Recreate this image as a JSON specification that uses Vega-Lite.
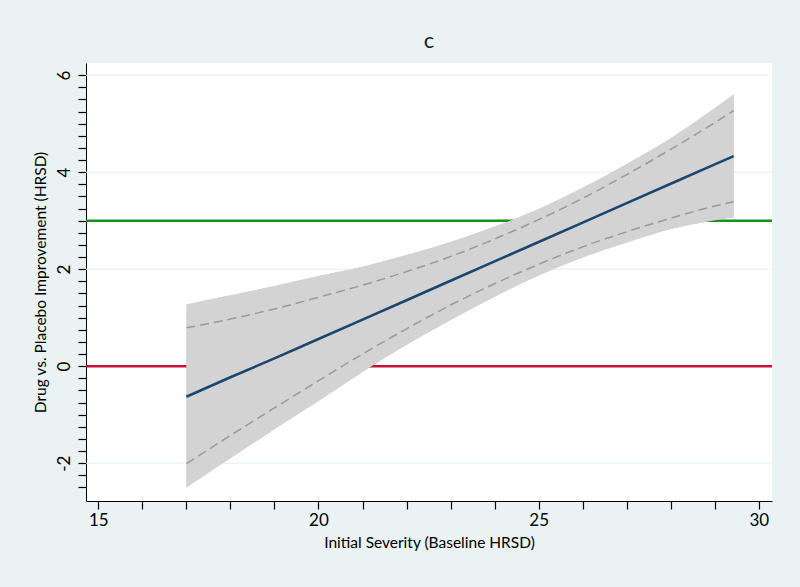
{
  "$schema": "https://vega.github.io/schema/vega-lite/v6.json",
  "width": 686,
  "height": 438,
  "autosize": {"type": "none"},
  "padding": {"left": 86, "top": 63, "right": 28, "bottom": 86},
  "background": "#eaf2f3",
  "title": {"text": "c", "font": "Lato", "fontSize": 22, "fontWeight": "normal", "color": "#1a1a2e", "offset": 10, "anchor": "middle"},
  "config": {
    "view": {"stroke": null, "fill": "white"},
    "axis": {
      "labelFont": "Lato", "titleFont": "Lato", "labelFontSize": 17, "titleFontSize": 15.5,
      "titleFontWeight": "normal", "labelColor": "#000", "titleColor": "#000",
      "domainColor": "#000", "tickColor": "#000", "domainWidth": 1, "tickWidth": 1.2,
      "tickSize": 8, "grid": false, "labelFlush": false, "labelOverlap": false
    }
  },
  "datasets": {
    "fit": [
      {"x": 17, "fit": -0.63, "lo": -2.50, "hi": 1.27, "dlo": -2.01, "dhi": 0.79},
      {"x": 18, "fit": -0.23, "lo": -1.90, "hi": 1.46, "dlo": -1.43, "dhi": 0.97},
      {"x": 19, "fit": 0.16, "lo": -1.30, "hi": 1.65, "dlo": -0.86, "dhi": 1.18},
      {"x": 20, "fit": 0.56, "lo": -0.72, "hi": 1.86, "dlo": -0.30, "dhi": 1.42},
      {"x": 21, "fit": 0.96, "lo": -0.12, "hi": 2.05, "dlo": 0.25, "dhi": 1.67},
      {"x": 22, "fit": 1.36, "lo": 0.44, "hi": 2.29, "dlo": 0.77, "dhi": 1.95},
      {"x": 23, "fit": 1.76, "lo": 0.95, "hi": 2.56, "dlo": 1.26, "dhi": 2.26},
      {"x": 24, "fit": 2.16, "lo": 1.43, "hi": 2.88, "dlo": 1.70, "dhi": 2.62},
      {"x": 25, "fit": 2.56, "lo": 1.87, "hi": 3.24, "dlo": 2.10, "dhi": 3.02},
      {"x": 26, "fit": 2.96, "lo": 2.24, "hi": 3.68, "dlo": 2.46, "dhi": 3.46},
      {"x": 27, "fit": 3.36, "lo": 2.55, "hi": 4.17, "dlo": 2.77, "dhi": 3.95},
      {"x": 28, "fit": 3.76, "lo": 2.83, "hi": 4.70, "dlo": 3.05, "dhi": 4.47},
      {"x": 29, "fit": 4.16, "lo": 3.01, "hi": 5.32, "dlo": 3.30, "dhi": 5.02},
      {"x": 29.43, "fit": 4.33, "lo": 3.07, "hi": 5.60, "dlo": 3.39, "dhi": 5.27}
    ],
    "grid": [{"g": -2}, {"g": 2}, {"g": 4}, {"g": 6}]
  },
  "layer": [
    {
      "data": {"name": "fit"},
      "mark": {"type": "area", "color": "#d3d3d3", "opacity": 1, "interpolate": "monotone"},
      "encoding": {
        "x": {"field": "x", "type": "quantitative", "scale": {"domain": [14.72, 30.3], "nice": false, "zero": false},
          "axis": {"title": "Initial Severity (Baseline HRSD)", "values": [15,16,17,18,19,20,21,22,23,24,25,26,27,28,29,30],
            "tickCount": 100, "labelExpr": "datum.value % 5 === 0 ? '' + datum.value : ''", "labelPadding": 3, "titlePadding": 7}},
        "y": {"field": "lo", "type": "quantitative", "scale": {"domain": [-2.78, 6.25], "nice": false, "zero": false},
          "axis": {"title": "Drug vs. Placebo Improvement (HRSD)",
            "values": [-2.5,-2.25,-2,-1.75,-1.5,-1.25,-1,-0.75,-0.5,-0.25,0,0.25,0.5,0.75,1,1.25,1.5,1.75,2,2.25,2.5,2.75,3,3.25,3.5,3.75,4,4.25,4.5,4.75,5,5.25,5.5,5.75,6],
            "tickCount": 100, "labelExpr": "datum.value % 2 === 0 ? '' + datum.value : ''", "labelAngle": 270, "labelAlign": "center", "labelBaseline": "bottom",
            "labelPadding": 5, "titlePadding": 7}},
        "y2": {"field": "hi"}
      }
    },
    {
      "data": {"name": "grid"},
      "mark": {"type": "rule", "color": "#e4eef0", "strokeWidth": 1},
      "encoding": {"y": {"field": "g", "type": "quantitative"}}
    },
    {
      "data": {"values": [{"ref": 0}]},
      "mark": {"type": "rule", "color": "#c8103a", "strokeWidth": 2.5},
      "encoding": {"y": {"field": "ref", "type": "quantitative"}}
    },
    {
      "data": {"values": [{"ref": 3}]},
      "mark": {"type": "rule", "color": "#17901c", "strokeWidth": 2.5},
      "encoding": {"y": {"field": "ref", "type": "quantitative"}}
    },
    {
      "data": {"name": "fit"},
      "mark": {"type": "area", "color": "#d3d3d3", "opacity": 1, "interpolate": "monotone"},
      "encoding": {"x": {"field": "x", "type": "quantitative"}, "y": {"field": "lo", "type": "quantitative"}, "y2": {"field": "hi"}}
    },
    {
      "data": {"name": "fit"},
      "mark": {"type": "line", "color": "#9a9a9a", "strokeWidth": 1.5, "strokeDash": [9, 5], "interpolate": "monotone"},
      "encoding": {"x": {"field": "x", "type": "quantitative"}, "y": {"field": "dhi", "type": "quantitative"}}
    },
    {
      "data": {"name": "fit"},
      "mark": {"type": "line", "color": "#9a9a9a", "strokeWidth": 1.5, "strokeDash": [9, 5], "interpolate": "monotone"},
      "encoding": {"x": {"field": "x", "type": "quantitative"}, "y": {"field": "dlo", "type": "quantitative"}}
    },
    {
      "data": {"name": "fit"},
      "mark": {"type": "line", "color": "#1a476f", "strokeWidth": 2.6},
      "encoding": {"x": {"field": "x", "type": "quantitative"}, "y": {"field": "fit", "type": "quantitative"}}
    }
  ]
}
